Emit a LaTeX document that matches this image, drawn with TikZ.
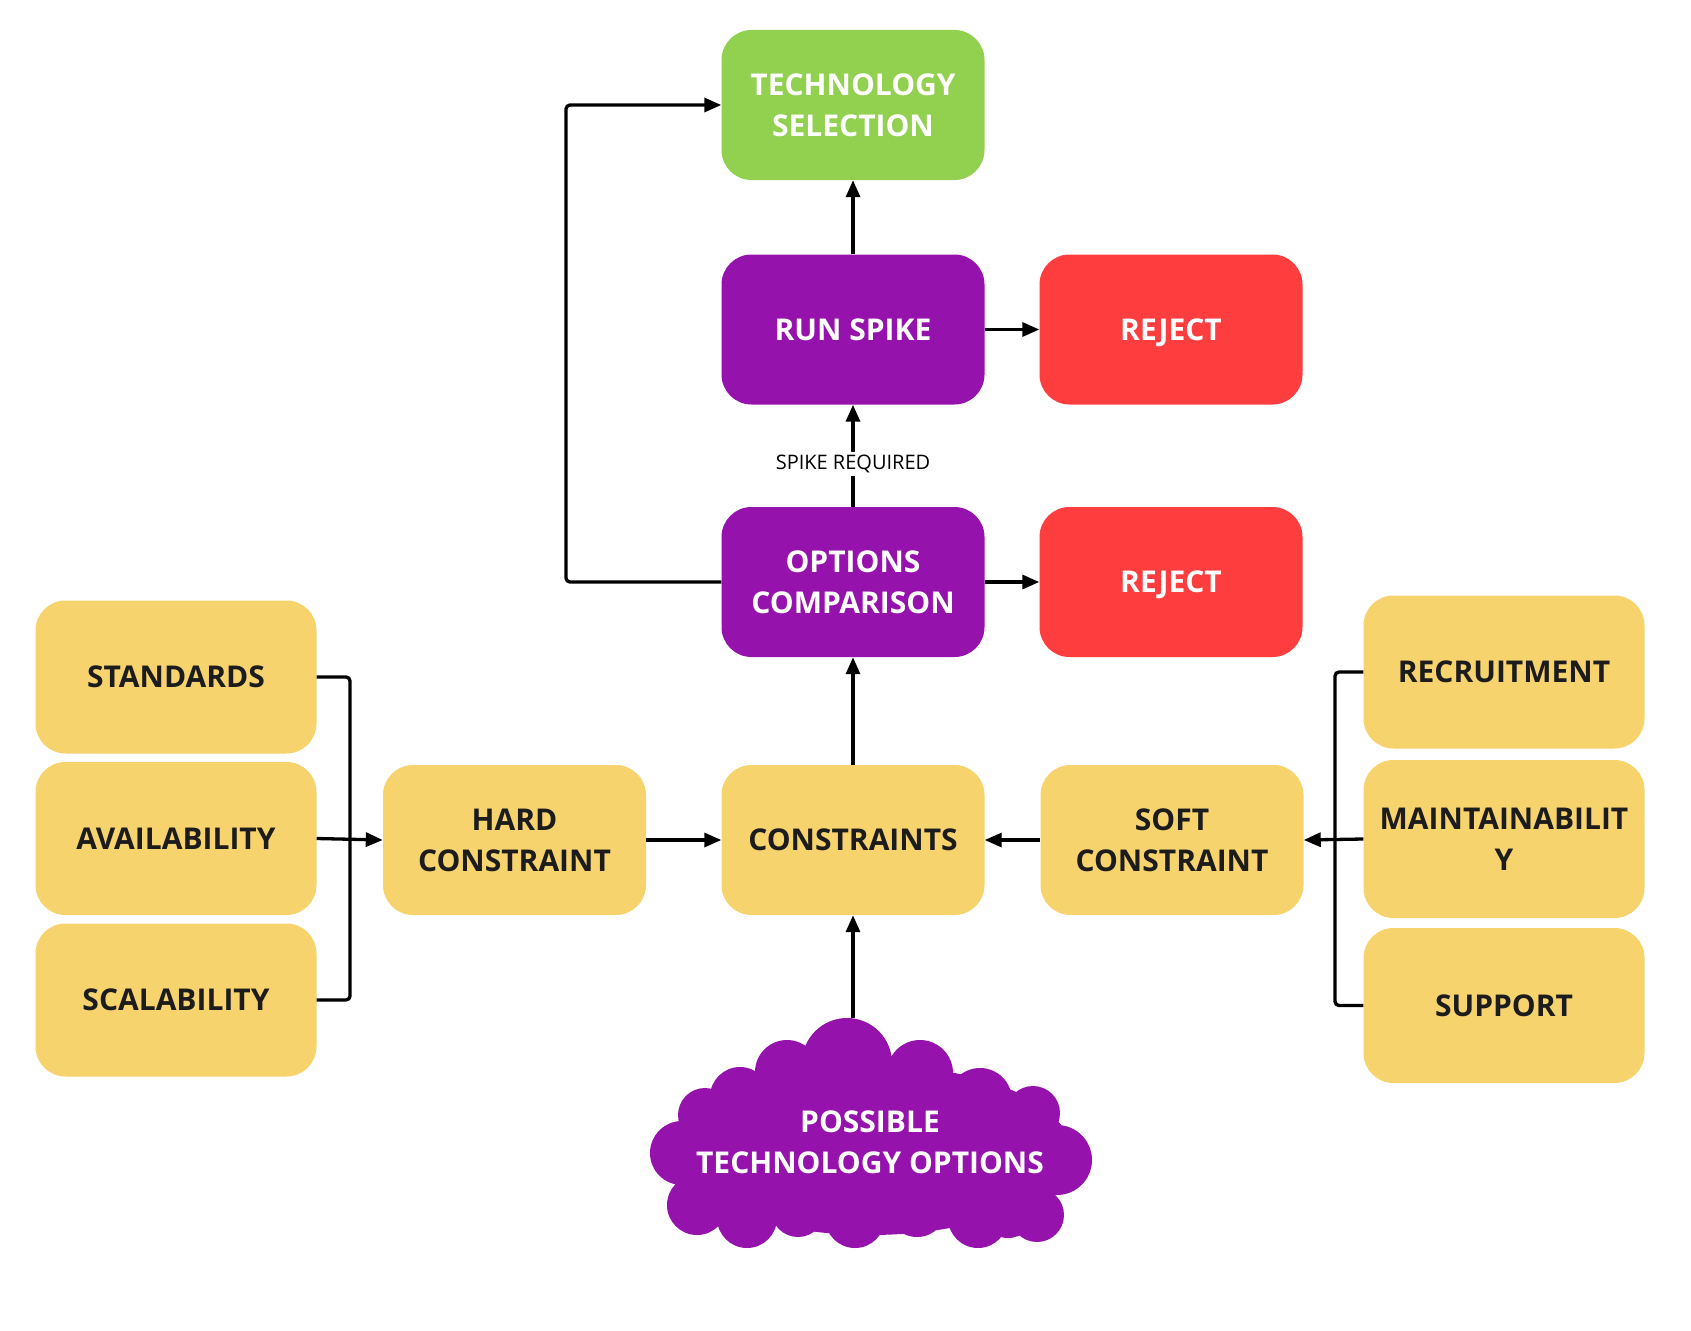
\documentclass[tikz,border=0pt]{standalone}
\usepackage{fontspec}
\setmainfont{Open Sans}
\usetikzlibrary{arrows.meta}
\definecolor{cgreen}{HTML}{92D050}
\definecolor{cpurple}{HTML}{9612AC}
\definecolor{cred}{HTML}{FE3D3F}
\definecolor{cyellow}{HTML}{F7D36E}
\definecolor{ctext}{HTML}{1C1C1C}
\tikzset{
  box/.style={rectangle, rounded corners=30pt, minimum width=263pt, minimum height=150pt,
    inner sep=0pt, align=center, font=\fontsize{30}{41}\selectfont\bfseries},
  sidebox/.style={box, minimum width=281pt, minimum height=153pt},
  ybox/.style={fill=cyellow, text=ctext},
  pbox/.style={fill=cpurple, text=white},
  rbox/.style={fill=cred, text=white, text depth=0pt},
  gbox/.style={fill=cgreen, text=white},
  conn/.style={line width=3.3pt, draw=black, rounded corners=4pt},
  arr/.style={conn, -{Triangle[length=17pt,width=14pt]}},
  lbl/.style={fill=white, inner sep=3pt, font=\fontsize{20}{24}\selectfont, text=black}
}
\begin{document}
\begin{tikzpicture}[x=1pt,y=-1pt]
\useasboundingbox (0,0) rectangle (1691,1330);
\fill[white] (0,0) rectangle (1691,1330);

% main column
\node[box,gbox] (tech) at (853,105) {TECHNOLOGY\\SELECTION};
\node[box,pbox] (spike) at (853,329.5) {RUN SPIKE};
\node[box,rbox] (rej1) at (1171,329.5) {REJECT};
\node[box,pbox] (opt) at (853,582) {OPTIONS\\COMPARISON};
\node[box,rbox] (rej2) at (1171,582) {REJECT};
\node[box,ybox] (cons) at (853,840) {CONSTRAINTS};
\node[box,ybox] (hard) at (514.5,840) {HARD\\CONSTRAINT};
\node[box,ybox] (soft) at (1172,840) {SOFT\\CONSTRAINT};

% left column
\node[sidebox,ybox] (std) at (176,677) {STANDARDS};
\node[sidebox,ybox] (avail) at (176,838.5) {AVAILABILITY};
\node[sidebox,ybox] (scal) at (176,1000) {SCALABILITY};

% right column
\node[sidebox,ybox] (recr) at (1504,672) {RECRUITMENT};
\node[sidebox,ybox,minimum height=158pt] (maint) at (1504,839) {MAINTAINABILIT\\Y};
\node[sidebox,ybox,minimum height=155pt] (supp) at (1504,1005.5) {SUPPORT};

% cloud
\fill[cpurple]
  (847,1063) circle (45)
  (787,1072) circle (32)
  (920,1073) circle (33)
  (740,1097) circle (30)
  (980,1100) circle (32)
  (705,1115) circle (27)
  (1033,1113) circle (27)
  (682,1153) circle (32)
  (1057,1160) circle (35)
  (697,1205) circle (30)
  (747,1218) circle (30)
  (798,1210) circle (27)
  (855,1218) circle (30)
  (917,1207) circle (30)
  (978,1218) circle (30)
  (1008,1210) circle (28)
  (1037,1215) circle (27)
  (870,1150) ellipse [x radius=200, y radius=85];
\node[align=center, text=white, font=\fontsize{30}{41}\selectfont\bfseries] (cloud) at (870,1142) {POSSIBLE\\TECHNOLOGY OPTIONS};
\coordinate (cloudtop) at (853,1018);

% connectors
\draw[arr] (cloudtop) -- (cons.south);
\draw[arr] (cons.north) -- (opt.south);
\draw[arr] (opt.north) -- node[lbl, pos=0.42] {SPIKE REQUIRED} (spike.south);
\draw[arr] (spike.north) -- (tech.south);
\draw[arr] (spike.east) -- (rej1.west);
\draw[arr] (opt.east) -- (rej2.west);
\draw[arr] (opt.west) -- (566,582) -- (566,105) -- (tech.west);
\draw[arr] (hard.east) -- (cons.west);
\draw[arr] (soft.west) -- (cons.east);

\draw[conn] (std.east) -- (350,677) -- (350,1000) -- (scal.east);
\draw[arr] (avail.east) -- (hard.west);
\draw[conn] (recr.west) -- (1335,672) -- (1335,1005.5) -- (supp.west);
\draw[arr] (maint.west) -- (soft.east);
\end{tikzpicture}
\end{document}
